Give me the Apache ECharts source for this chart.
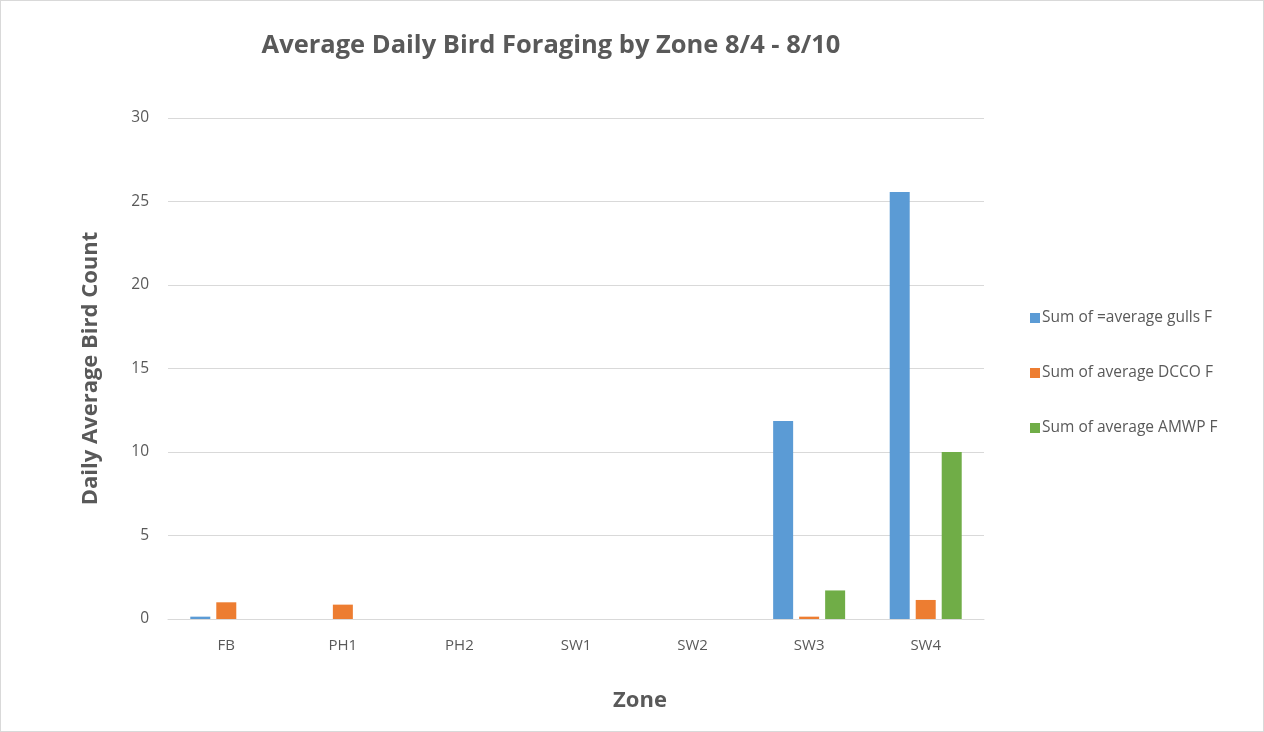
<!DOCTYPE html>
<html>
<head>
    <meta charset="utf-8">
    <title>Bird Foraging</title>
    <script src="https://cdn.jsdelivr.net/npm/echarts@6/dist/echarts.min.js"></script>
    <style>
        html, body { margin: 0; padding: 0; background: #fff; }
        #chart { width: 1262px; height: 730px; border: 1px solid #d9d9d9; }
    </style>
</head>
<body>
    <div id="chart"></div>
    <script type="text/javascript">
        // zones on the x axis
        var zones = ['FB', 'PH1', 'PH2', 'SW1', 'SW2', 'SW3', 'SW4'];
        // daily averages per zone
        var gulls = [0.14, 0, 0, 0, 0, 11.86, 25.57];
        var dcco = [1.0, 0.86, 0, 0, 0, 0.14, 1.14];
        var amwp = [0, 0, 0, 0, 0, 1.71, 10];

        var seriesNames = ['Sum of =average gulls F', 'Sum of average DCCO F', 'Sum of average AMWP F'];
        var colors = ['#5B9BD5', '#ED7D31', '#70AD47'];

        var font = '"Open Sans", "Liberation Sans", sans-serif';
        var textGray = '#595959';

        var chart = echarts.init(document.getElementById('chart'));

        function bar(name, data, color) {
            return {
                name: name,
                type: 'bar',
                data: data,
                barWidth: 20,
                barGap: '30%',
                itemStyle: { color: color },
                animation: false
            };
        }

        var option = {
            backgroundColor: '#fff',
            color: colors,
            title: {
                text: 'Average Daily Bird Foraging by Zone 8/4 - 8/10',
                left: 545,
                top: 27,
                textAlign: 'center',
                textStyle: { fontFamily: font, fontSize: 25.5, fontWeight: 'bold', color: textGray }
            },
            legend: {
                orient: 'vertical',
                left: 1024,
                top: 304,
                itemWidth: 10,
                itemHeight: 10,
                itemGap: 39,
                icon: 'rect',
                textStyle: { fontFamily: font, fontSize: 15.5, color: textGray, padding: [0, 0, 0, -3] },
                data: seriesNames
            },
            grid: {
                left: 167,
                right: 1264 - 985,
                top: 117,
                bottom: 112
            },
            xAxis: {
                type: 'category',
                data: zones,
                name: 'Zone',
                nameLocation: 'middle',
                nameGap: 71,
                nameTextStyle: { fontFamily: font, fontSize: 22, fontWeight: 'bold', color: textGray, padding: [0, 0, 0, 128] },
                axisLine: { lineStyle: { color: '#d9d9d9', width: 1 } },
                axisTick: { show: false },
                axisLabel: { fontFamily: font, fontSize: 15, color: textGray, margin: 19 }
            },
            yAxis: {
                type: 'value',
                min: 0,
                max: 30,
                interval: 5,
                name: 'Daily Average Bird Count',
                nameLocation: 'middle',
                nameGap: 66,
                nameTextStyle: { fontFamily: font, fontSize: 22, fontWeight: 'bold', color: textGray },
                axisLine: { show: false },
                axisTick: { show: false },
                axisLabel: { fontFamily: font, fontSize: 15.5, color: textGray, margin: 19 },
                splitLine: { lineStyle: { color: '#d9d9d9', width: 1 } }
            },
            series: [
                bar(seriesNames[0], gulls, colors[0]),
                bar(seriesNames[1], dcco, colors[1]),
                bar(seriesNames[2], amwp, colors[2])
            ]
        };
        chart.setOption(option);
    </script>
</body>
</html>
